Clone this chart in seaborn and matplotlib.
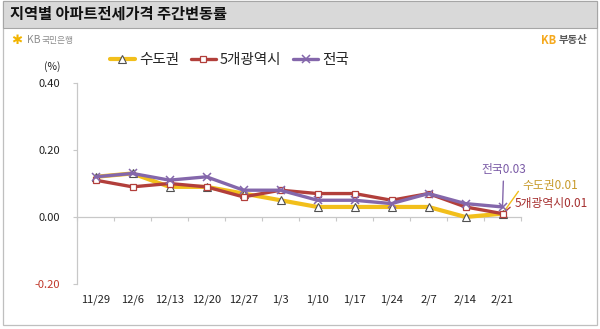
import matplotlib
matplotlib.use("Agg")
import matplotlib.pyplot as plt
from matplotlib.patches import Rectangle
from matplotlib.ticker import FixedLocator
import seaborn as sns
import pandas as pd

# Weekly change of apartment jeonse prices (%)
weeks = ["11/29", "12/6", "12/13", "12/20", "12/27", "1/3", "1/10",
         "1/17", "1/24", "2/7", "2/14", "2/21"]
capital_area = [0.12, 0.13, 0.09, 0.09, 0.07, 0.05, 0.03, 0.03, 0.03, 0.03, 0.00, 0.01]
five_metros = [0.11, 0.09, 0.10, 0.09, 0.06, 0.08, 0.07, 0.07, 0.05, 0.07, 0.03, 0.01]
nationwide = [0.12, 0.13, 0.11, 0.12, 0.08, 0.08, 0.05, 0.05, 0.04, 0.07, 0.04, 0.03]
series_names = ["수도권", "5개광역시", "전국"]
y_ticks = [-0.20, 0.00, 0.20, 0.40]

YELLOW = "#f2bf1b"
RED = "#b23f3b"
PURPLE = "#8467ab"

sns.set_theme(style="white")
plt.rcParams["font.family"] = ["Noto Sans CJK KR", "DejaVu Sans"]
plt.rcParams["axes.unicode_minus"] = False

fig = plt.figure(figsize=(6, 3.29), dpi=100)

# panel frame and header bar
fig.add_artist(Rectangle((3 / 600, 4 / 329), 594 / 600, 324 / 329,
                         transform=fig.transFigure, facecolor="white",
                         edgecolor="#bfbfbf", lw=0.9, zorder=0))
fig.add_artist(Rectangle((3 / 600, 301 / 329), 594 / 600, 27 / 329,
                         transform=fig.transFigure, facecolor="#d9d9d9",
                         edgecolor="#a6a6a6", lw=0.8, zorder=0))
fig.text(10 / 600, 1 - 14 / 329, "지역별 아파트전세가격 주간변동률",
         fontsize=11, fontweight="bold", color="#111111", va="center")

# logos
fig.text(11 / 600, 1 - 40 / 329, "✱", family="DejaVu Sans", color="#f2b400",
         fontsize=9.5, va="center", fontweight="bold")
fig.text(27 / 600, 1 - 40 / 329, "KB", color="#8c8c8c", fontsize=7.5, va="center")
fig.text(42 / 600, 1 - 40 / 329, "국민은행", color="#8c8c8c", fontsize=6.3, va="center")
fig.text(541 / 600, 1 - 40 / 329, "KB", color="#f5a91e", fontsize=8,
         fontweight="bold", va="center")
fig.text(559 / 600, 1 - 40 / 329, "부동산", color="#5a5a5a", fontsize=7.5,
         fontweight="bold", va="center")
fig.text(52 / 600, 1 - 67 / 329, "(%)", color="#222222", fontsize=7.5,
         ha="center", va="center")

ax = fig.add_axes([77 / 600, 45 / 329, 444 / 600, 201 / 329])
ax.set_facecolor("none")

pos = list(range(len(weeks)))
frames = {
    name: pd.DataFrame({"pos": pos, "value": vals})
    for name, vals in zip(series_names, [capital_area, five_metros, nationwide])
}

sns.lineplot(data=frames["수도권"], x="pos", y="value", ax=ax, color=YELLOW,
             lw=3.0, marker="^", markersize=6, markerfacecolor="white",
             markeredgecolor="#505050", markeredgewidth=0.8, label="수도권", zorder=3)
sns.lineplot(data=frames["5개광역시"], x="pos", y="value", ax=ax, color=RED,
             lw=2.4, marker="s", markersize=5, markerfacecolor="white",
             markeredgecolor=RED, markeredgewidth=0.9, label="5개광역시", zorder=4)
sns.lineplot(data=frames["전국"], x="pos", y="value", ax=ax, color=PURPLE,
             lw=2.4, marker="x", markersize=5.5, markeredgecolor=PURPLE,
             markeredgewidth=1.1, label="전국", zorder=5)

ax.set_xlim(-0.5, len(weeks) - 0.5)
ax.set_ylim(y_ticks[0], y_ticks[-1])
ax.set_xlabel("")
ax.set_ylabel("")

for side in ("top", "right"):
    ax.spines[side].set_visible(False)
for side in ("left", "bottom"):
    ax.spines[side].set_color("#c8c8c8")
    ax.spines[side].set_linewidth(0.9)
ax.spines["bottom"].set_position(("data", 0))

ax.set_xticks(pos)
ax.set_xticklabels(weeks)
ax.xaxis.set_minor_locator(FixedLocator([p - 0.5 for p in pos] + [pos[-1] + 0.5]))
ax.tick_params(axis="x", which="major", length=0, pad=56, labelsize=8,
               labelcolor="#222222")
ax.tick_params(axis="x", which="minor", bottom=True, length=3, width=0.8,
               color="#c8c8c8")

ax.set_yticks(y_ticks)
ax.set_yticklabels([f"{v:.2f}" for v in y_ticks])
ax.tick_params(axis="y", left=True, length=3, width=0.8, color="#c8c8c8",
               pad=9, labelsize=8, labelcolor="#222222")
for lbl, v in zip(ax.get_yticklabels(), y_ticks):
    if v < 0:
        lbl.set_color("#c0392b")

handles, labels = ax.get_legend_handles_labels()
ax.get_legend().remove()
fig.legend(handles, labels, loc="center left", bbox_to_anchor=(110 / 600, 1 - 60 / 329),
           ncol=3, frameon=False, fontsize=10.5, handlelength=1.7,
           handletextpad=0.3, columnspacing=0.8, borderaxespad=0, borderpad=0)

# end-of-series value labels
last = len(weeks) - 1
ax.annotate(f"전국{nationwide[-1]:.2f}", xy=(last, nationwide[-1]),
            xytext=(1, 37), textcoords="offset pixels", ha="center", va="center",
            color="#7a5aa6", fontsize=8.5, annotation_clip=False,
            arrowprops=dict(arrowstyle="-", color=PURPLE, lw=1.0,
                            shrinkA=1, shrinkB=0, relpos=(0.5, 0)))
ax.annotate(f"수도권{capital_area[-1]:.2f}", xy=(last, capital_area[-1]),
            xytext=(20, 28), textcoords="offset pixels", ha="left", va="center",
            color="#c79a2a", fontsize=8.5, annotation_clip=False,
            arrowprops=dict(arrowstyle="-", color=YELLOW, lw=1.0,
                            shrinkA=1, shrinkB=3, relpos=(0, 0.5)))
ax.annotate(f"5개광역시{five_metros[-1]:.2f}", xy=(last, five_metros[-1]),
            xytext=(12, 10), textcoords="offset pixels", ha="left", va="center",
            color="#a52f2f", fontsize=8.5, annotation_clip=False,
            arrowprops=dict(arrowstyle="-", color=RED, lw=1.0,
                            shrinkA=1, shrinkB=3, relpos=(0, 0.5)))

fig.savefig("out.png", dpi=100)
